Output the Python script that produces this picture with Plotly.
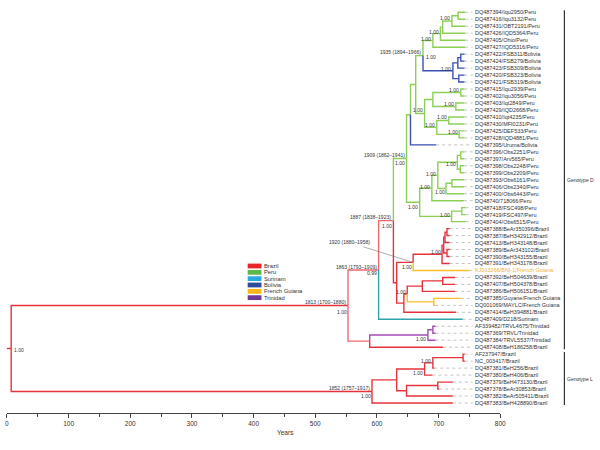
import plotly.graph_objects as go

# ---------------- data ----------------
TIP_LABELS = [
    "DQ487394/Iqu2950/Peru", "DQ487416/Iqu3132/Peru", "DQ487431/OBT2191/Peru",
    "DQ487426/IQD5364/Peru", "DQ487405/Ohio/Peru", "DQ487427/IQD5316/Peru",
    "DQ487422/FSB311/Bolivia", "DQ487424/FSB279/Bolivia", "DQ487423/FSB309/Bolivia",
    "DQ487420/FSB323/Bolivia", "DQ487421/FSB319/Bolivia", "DQ487415/Iqu2939/Peru",
    "DQ487402/Iqu3056/Peru", "DQ487403/Iqt2849/Peru", "DQ487429/IQD2668/Peru",
    "DQ487410/Iqt4235/Peru", "DQ487430/MFI0231/Peru", "DQ487425/DEF533/Peru",
    "DQ487428/IQD4881/Peru", "DQ487395/Uruma/Bolivia", "DQ487396/Obs2251/Peru",
    "DQ487397/Arv565/Peru", "DQ487398/Obs2248/Peru", "DQ487399/Obs2209/Peru",
    "DQ487393/Obs6161/Peru", "DQ487406/Obs2340/Peru", "DQ487400/Obs6443/Peru",
    "DQ48740/718066/Peru", "DQ487418/FSC498/Peru", "DQ487419/FSC497/Peru",
    "DQ487404/Obs6515/Peru", "DQ487388/BeAr350396/Brazil", "DQ487387/BeH342912/Brazil",
    "DQ487413/BeH343148/Brazil", "DQ487389/BeAr343102/Brazil", "DQ487390/BeH343155/Brazil",
    "DQ487391/BeH343178/Brazil", "KJ013266/BNI-1/French Guiana", "DQ487392/BeH504639/Brazil",
    "DQ487407/BeH504378/Brazil", "DQ487386/BeH506151/Brazil", "DQ487385/Guyane/French Guiana",
    "DQ001069/MAYLC/French Guiana", "DQ487414/BeH394881/Brazil", "DQ487409/D218/Surinam",
    "AF339482/TRVL4675/Trinidad", "DQ487369/TRVL/Trinidad", "DQ487384/TRVL5537/Trinidad",
    "DQ487408/BeH186258/Brazil", "AF237947/Brazil", "NC_003417/Brazil",
    "DQ487381/BeH256/Brazil", "DQ487380/BeH406/Brazil", "DQ487379/BeH473130/Brazil",
    "DQ487378/BeAr30853/Brazil", "DQ487382/BeAr505411/Brazil", "DQ487383/BeH428890/Brazil",
]
TIP_COUNTRY = (["Peru"] * 6 + ["Bolivia"] * 5 + ["Peru"] * 8 + ["Bolivia"] + ["Peru"] * 11
               + ["Brazil"] * 6 + ["French Guiana"] + ["Brazil"] * 3 + ["French Guiana"] * 2
               + ["Brazil", "Surinam"] + ["Trinidad"] * 3 + ["Brazil"] * 9)
# year (on the scale) where each coloured tip branch ends
TIP_YEARS = ([743] * 6 + [742] * 5 + [742] * 8 + [696] + [741] * 8 + [744] * 3
             + [718] * 6 + [749] + [727] * 3 + [736, 694.5, 728, 739] + [695] * 3
             + [707, 742.5, 742.5, 693, 690, 723, 701, 723, 723])

NODE_NAMES = [
    "root", "n1813", "n1863", "n1887", "n1909", "nNb", "nNa", "n1935", "nR6", "nR12345",
    "nR1234", "nR123", "nR12", "nBol", "nB789", "nB78", "nB1011", "nP12_19", "nP12_15",
    "nP1213", "nP1415", "nP16_19", "nP1617", "nP1819", "nP21_31", "nP21_28", "nP21_27",
    "nP21_24", "nP2122", "nP2324", "nP25_27", "nP2526", "nP29_31", "nP2930", "nBrFG",
    "n1920", "nBr32_37", "nBr32_36", "nBr32_34", "nBr3233", "nBr3536", "n407", "n410",
    "nBr39_41", "nBr3940", "nFG", "nTrBr", "nTr", "nTr4647", "n1852", "nL50_56",
    "nL50_53", "nL50_52", "nL5051", "nL54_56", "nL5455",
]
NODE_CHILDREN = [
    ["n1813", "n1852"], ["n1863", "nTrBr"], ["n1887", 45], ["n1909", "nBrFG"],
    ["nNb", "nP21_31"], ["nNa", 20], ["n1935", "nP12_19"], ["nR6", "nBol"],
    ["nR12345", 6], ["nR1234", 5], ["nR123", 4], ["nR12", 3], [1, 2],
    ["nB789", "nB1011"], ["nB78", 9], [7, 8], [10, 11], ["nP12_15", "nP16_19"],
    ["nP1213", "nP1415"], [12, 13], [14, 15], ["nP1617", "nP1819"], [16, 17], [18, 19],
    ["nP21_28", "nP29_31"], ["nP21_27", 28], ["nP21_24", "nP25_27"], ["nP2122", "nP2324"],
    [21, 22], [23, 24], ["nP2526", 27], [25, 26], ["nP2930", 31], [29, 30],
    ["n1920", "n407"], ["nBr32_37", 38], ["nBr32_36", 37], ["nBr32_34", "nBr3536"],
    ["nBr3233", 34], [32, 33], [35, 36], ["n410", 44], ["nBr39_41", "nFG"],
    ["nBr3940", 41], [39, 40], [42, 43], ["nTr", 49], ["nTr4647", 48], [46, 47],
    ["nL50_56", 57], ["nL50_53", "nL54_56"], ["nL50_52", 53], ["nL5051", 52], [50, 51],
    ["nL5455", 56], [54, 55],
]
NODE_YEARS = [
    6.9, 553.1, 602.7, 626.7, 648, 654.4, 662.9, 674.7, 690.7, 702.9,
    706.7, 721.6, 731.7, 723.2, 731.2, 736, 732.8, 677.3, 690.7,
    736, 728, 697.1, 716.3, 733.3, 669.3, 689.1, 698.7,
    730.4, 736, 735.2, 712, 721.6, 721.1, 737.6, 632,
    658.7, 705.6, 708.3, 710.4, 713.6, 713.6, 643.7, 649.1,
    673.6, 706.7, 692.3, 588.3, 682.7, 690.7, 592, 632,
    677.3, 690.7, 739.7, 648, 698.7,
]
NODE_STATE = (["Brazil", "Brazil", "Brazil*", "Brazil*"] + ["Peru"] * 9 + ["Bolivia"] * 4
              + ["Peru"] * 17 + ["Brazil"] * 11 + ["French Guiana", "Brazil*"]
              + ["Trinidad"] * 2 + ["Brazil"] + ["Brazil"] * 6)

# posterior support labels: node, text, side of node, vertical offset (px, + = down)
NODE_POSTERIOR = [
    ("root", "1.00", "R", 1.4), ("n1813", "1.00", "L", 6), ("n1863", "0.99", "L", 3.3),
    ("n1852", "1.00", "L", 4.5), ("n1887", "1.00", "L", 5.5), ("n1909", "1.00", "L", 4.5),
    ("n1935", "1.00", "R", 1), ("nR123", "1.00", "L", -2.7), ("nR12345", "1.00", "L", -1.6),
    ("nR6", "1.00", "L", -1.4), ("nBol", "1.00", "L", -1.7), ("nP1213", "1.00", "L", -2.5),
    ("nP1415", "1.00", "L", -2.5), ("nP12_19", "1.00", "L", -3.5), ("nP1617", "1.00", "L", -3.4),
    ("nP16_19", "1.00", "L", -2.4), ("nP1819", "1.00", "L", -2.7), ("nP21_24", "1.00", "L", 2),
    ("nP21_27", "1.00", "L", -1), ("nP25_27", "1.00", "L", 3.5), ("nP21_28", "1.00", "L", -1.3),
    ("nP21_31", "1.00", "L", 4.5), ("nP29_31", "1.00", "L", -1.4), ("nBr32_37", "1.00", "L", -2),
    ("n1920", "1.00", "L", 4.3), ("n410", "1.00", "L", -2), ("nTr", "1.00", "L", 4),
    ("nL50_52", "1.00", "L", -2), ("nL50_53", "1.00", "L", 4.2),
]
DATE_LABELS = [
    ("n1935", "1935 (1894\u20131966)"), ("n1909", "1909 (1862\u20131941)"),
    ("n1887", "1887 (1838\u20131923)"), ("n1863", "1863 (1793\u20131909)"),
    ("n1813", "1813 (1700\u20131880)"), ("n1852", "1852 (1757\u20131917)"),
]
POINTER_LABEL = ("n1920", "1920 (1880\u20131958)")

LEGEND_LABELS = ["Brazil", "Peru", "Surinam", "Bolivia", "French Guiana", "Trinidad"]
LEGEND_COLORS = ["#e8262a", "#5cb848", "#29aae1", "#2e4c9c", "#fbb718", "#6d3b96"]

GENOTYPES = [("Genotype D", 1, 49), ("Genotype L", 50, 57)]
SCALE_TICKS = [0, 100, 200, 300, 400, 500, 600, 700, 800]

# ---------------- styling / geometry ----------------
BRANCH_COLORS = {
    "Brazil": "#e8323b", "Brazil*": "#ee6a72", "Peru": "#8ccf55", "Surinam": "#2fa3aa",
    "Bolivia": "#3a50b4", "French Guiana": "#fbbd2c", "Trinidad": "#a84cba",
}
FONT = "Liberation Sans, Arial, sans-serif"
PX_PER_YEAR = 0.625
X0_PX = 5.0
ROW0_PX, ROW_STEP = 12.3, 6.977
W, H = 600, 450


def u_of_px(px):
    return (px - X0_PX) / PX_PER_YEAR


children = dict(zip(NODE_NAMES, NODE_CHILDREN))
xpos = dict(zip(NODE_NAMES, NODE_YEARS))
state = dict(zip(NODE_NAMES, NODE_STATE))
ypos = {}
for i in range(len(TIP_LABELS)):
    xpos[i + 1] = TIP_YEARS[i]
    ypos[i + 1] = i + 1
    state[i + 1] = TIP_COUNTRY[i]


def gety(n):
    if n in ypos:
        return ypos[n]
    ch = children[n]
    y = (gety(ch[0]) + gety(ch[-1])) / 2.0
    ypos[n] = y
    return y


gety("root")

segs = {}
for p in NODE_NAMES:
    for c in children[p]:
        col = BRANCH_COLORS[state[c]]
        xs, ys = segs.setdefault(col, ([], []))
        xs += [xpos[p], xpos[p], xpos[c], None]
        ys += [ypos[p], ypos[c], ypos[c], None]
# root stub
col = BRANCH_COLORS["Brazil"]
segs[col][0].extend([0, xpos["root"], None])
segs[col][1].extend([ypos["root"], ypos["root"], None])

fig = go.Figure()

# invisible trace to carry the scale axis
fig.add_trace(go.Scatter(x=[SCALE_TICKS[0], SCALE_TICKS[-1]], y=[60, 60], xaxis="x2",
                         yaxis="y", mode="markers", marker=dict(opacity=0, size=1),
                         hoverinfo="skip"))

# dotted leaders
lx, ly = [], []
leader_end = u_of_px(477)
for i in range(len(TIP_LABELS)):
    lx += [TIP_YEARS[i], leader_end, None]
    ly += [i + 1, i + 1, None]
fig.add_trace(go.Scatter(x=lx, y=ly, mode="lines", hoverinfo="skip", xaxis="x", yaxis="y",
                         line=dict(color="#b5b5b5", width=0.8, dash="dot")))

for colr, (xs, ys) in segs.items():
    fig.add_trace(go.Scatter(x=xs, y=ys, mode="lines", hoverinfo="skip", xaxis="x", yaxis="y",
                             line=dict(color=colr, width=1.4)))

ann = []
label_x = u_of_px(477)
for i, t in enumerate(TIP_LABELS):
    c = "#f2b22c" if t.startswith("KJ013266") else "#333333"
    ann.append(dict(x=label_x, y=i + 1, xref="x", yref="y", text=t, showarrow=False,
                    xanchor="left", yanchor="middle", font=dict(size=5.5, color=c, family=FONT)))

for node, txt, side, dy in NODE_POSTERIOR:
    ann.append(dict(x=xpos[node], y=ypos[node], xref="x", yref="y", text=txt, showarrow=False,
                    xanchor="right" if side == "L" else "left",
                    xshift=0.5, yshift=-dy, yanchor="middle",
                    font=dict(size=5, color="#333333", family=FONT)))

for node, txt in DATE_LABELS:
    ann.append(dict(x=xpos[node], y=ypos[node], xref="x", yref="y", text=txt, showarrow=False,
                    xanchor="right", xshift=0, yshift=3.2, yanchor="middle",
                    font=dict(size=5, color="#333333", family=FONT)))

pnode, ptxt = POINTER_LABEL
ann.append(dict(x=xpos[pnode], y=ypos[pnode], xref="x", yref="y", text=ptxt,
                showarrow=True, arrowhead=0, arrowwidth=0.6, arrowcolor="#777777",
                ax=-64, ay=-20, standoff=0, font=dict(size=5, color="#333333", family=FONT)))

shapes = []
for k, (lab, colr) in enumerate(zip(LEGEND_LABELS, LEGEND_COLORS)):
    cy = 266 + k * 6.33
    shapes.append(dict(type="rect", xref="paper", yref="paper", x0=249 / W, x1=263 / W,
                       y0=1 - (cy + 2.4) / H, y1=1 - (cy - 2.4) / H,
                       fillcolor=colr, line=dict(width=0)))
    ann.append(dict(x=264 / W, y=1 - cy / H, xref="paper", yref="paper", text=lab,
                    showarrow=False, xanchor="left", yanchor="middle",
                    font=dict(size=5.8, color="#333333", family=FONT)))

for lab, r0, r1 in GENOTYPES:
    shapes.append(dict(type="line", xref="paper", yref="y", x0=570 / W, x1=570 / W,
                       y0=r0 - 0.3, y1=r1 + 0.3, line=dict(color="#333333", width=1.2)))
    ann.append(dict(x=571 / W, y=(r0 + r1) / 2, xref="paper", yref="y", text=lab,
                    showarrow=False, xanchor="left", yanchor="middle",
                    font=dict(size=5, color="#333333", family=FONT)))

ann.append(dict(x=287 / W, y=1 - 432 / H, xref="paper", yref="paper", text="Years",
                showarrow=False, xanchor="center", yanchor="middle",
                font=dict(size=6.5, color="#333333", family=FONT)))

y_top = -ROW0_PX / ROW_STEP + 1
y_bot = (H - ROW0_PX) / ROW_STEP + 1

fig.update_layout(
    width=W, height=H, margin=dict(l=0, r=0, t=0, b=0),
    paper_bgcolor="white", plot_bgcolor="rgba(0,0,0,0)", showlegend=False,
    xaxis=dict(range=[u_of_px(0), u_of_px(W)], domain=[0, 1], visible=False),
    yaxis=dict(range=[y_bot, y_top], domain=[0, 1], visible=False),
    xaxis2=dict(domain=[X0_PX / W, (X0_PX + 800 * PX_PER_YEAR) / W], range=[0, 800],
                anchor="free", position=1 - 413 / H, showline=True, linecolor="#444444",
                linewidth=1, ticks="outside", ticklen=4, tickwidth=1, tickcolor="#444444",
                tickvals=SCALE_TICKS, ticktext=[str(v) for v in SCALE_TICKS],
                tickfont=dict(size=6.5, color="#333333", family=FONT),
                minor=dict(ticks="outside", dtick=50, ticklen=2.5, tickcolor="#444444"),
                showgrid=False, zeroline=False),
    annotations=ann, shapes=shapes,
)

fig.write_html("out.html", config={"displayModeBar": False},
               post_script="document.body.style.margin='0px';")
